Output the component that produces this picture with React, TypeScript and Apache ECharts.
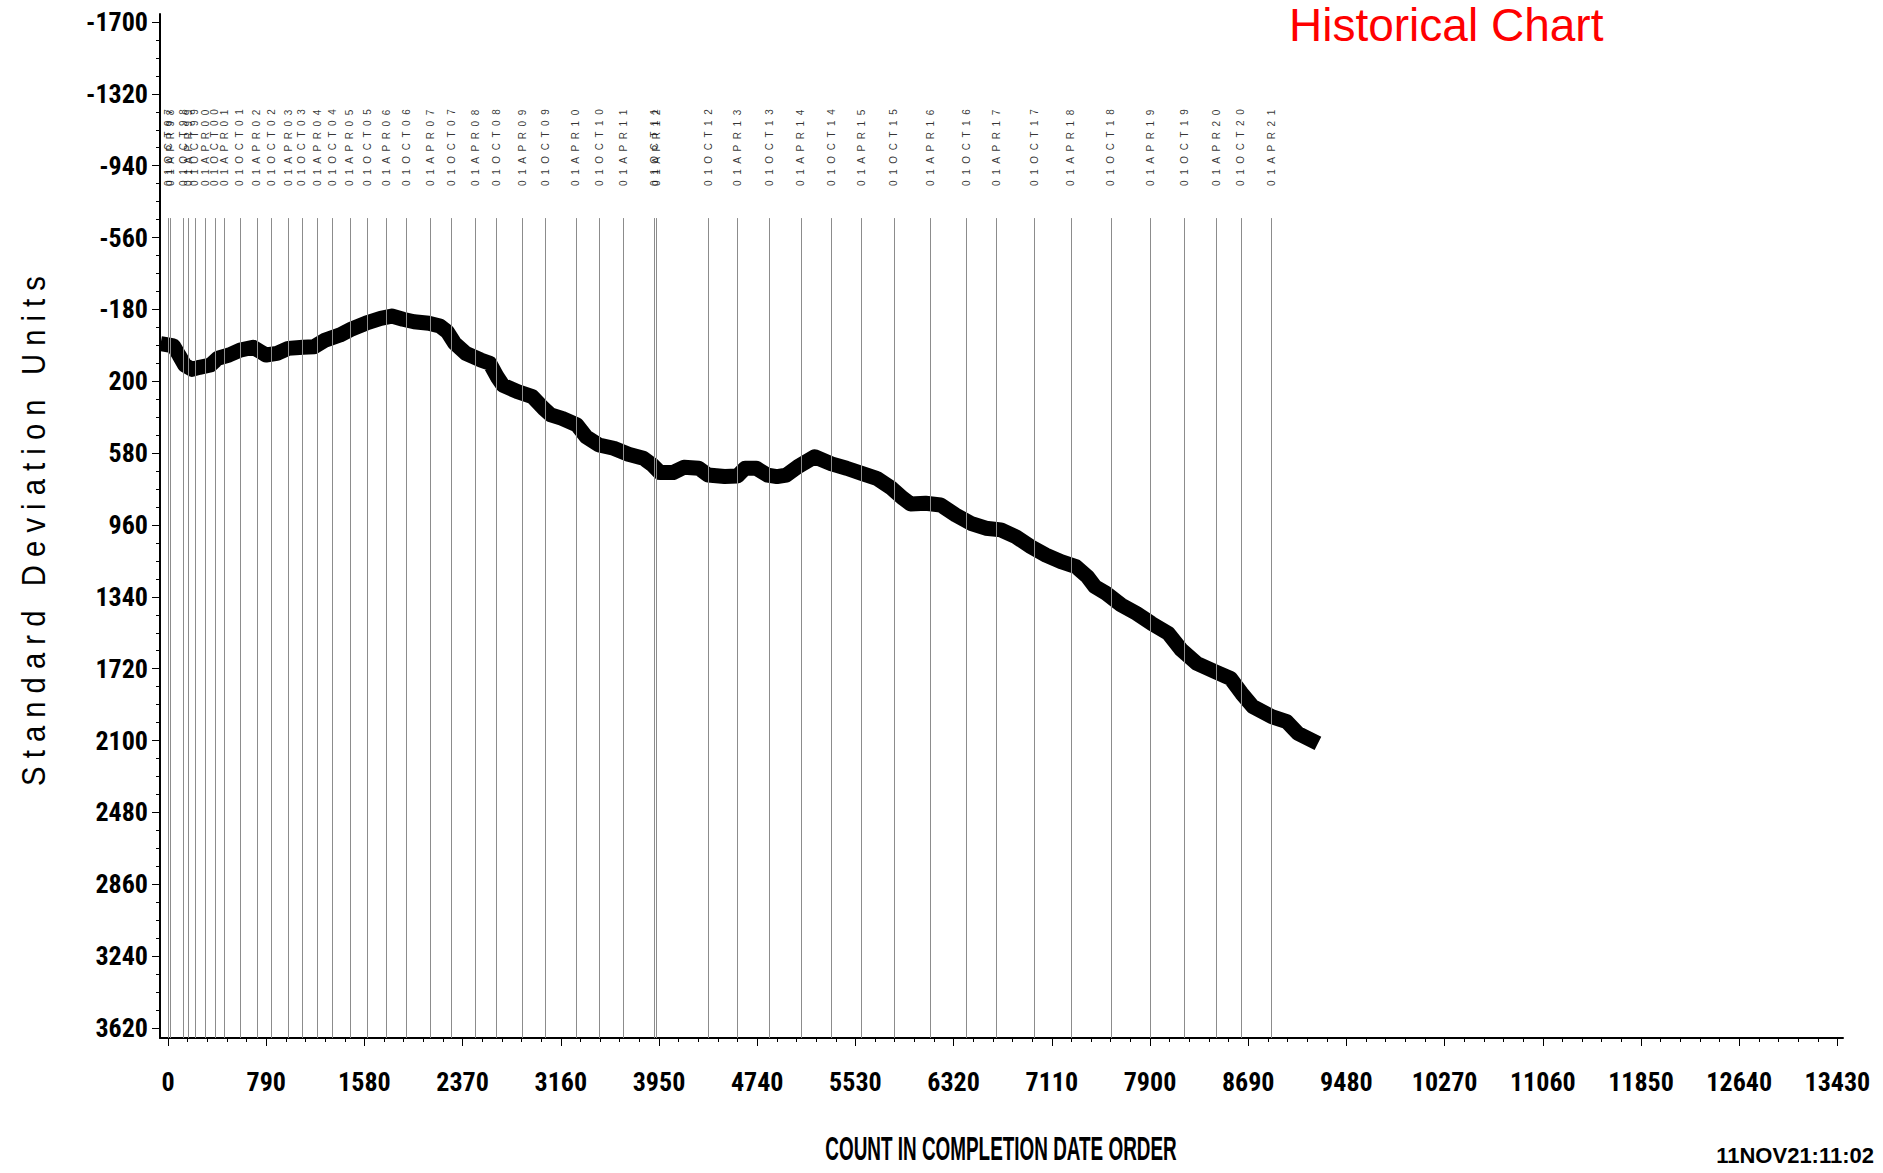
import React, { useEffect, useRef } from "react";
import * as echarts from "echarts";

// ---------- data ----------
const CURVE_COUNTS = [
  0, 44, 88, 134, 193, 253, 342, 401, 491, 580, 684, 743, 788, 877, 967, 1086,
  1175, 1265, 1384, 1473, 1592, 1711, 1800, 1890, 1979, 2098, 2187, 2247, 2306,
  2396, 2515, 2589, 2648, 2693, 2812, 2931, 3021, 3080, 3170, 3289, 3363, 3467,
  3585, 3704, 3824, 3898, 3958, 4062, 4151, 4270, 4344, 4478, 4581, 4642, 4733,
  4823, 4899, 4975, 5066, 5202, 5338, 5459, 5580, 5701, 5822, 5913, 5974, 6095,
  6216, 6337, 6458, 6579, 6700, 6821, 6942, 7063, 7184, 7304, 7396, 7457, 7547,
  7669, 7790, 7911, 8047, 8153, 8274, 8425, 8547, 8637, 8728, 8880, 9000, 9090,
  9197,
];
const CURVE_VALUES = [
  8, 13, 61, 114, 137, 126, 114, 78, 61, 35, 20, 43, 61, 52, 26, 20, 17, -18,
  -45, -75, -107, -133, -145, -128, -115, -107, -92, -62, -1, 52, 87, 105, 176,
  220, 255, 281, 343, 378, 396, 431, 493, 537, 554, 586, 607, 643, 683, 683, 655,
  660, 696, 704, 701, 660, 660, 696, 704, 696, 652, 599, 637, 660, 687, 713, 766,
  819, 849, 845, 854, 907, 951, 977, 986, 1022, 1075, 1119, 1154, 1180, 1233,
  1286, 1321, 1383, 1427, 1480, 1533, 1621, 1691, 1736, 1771, 1850, 1921, 1974,
  2000, 2062, 2097,
];

const DATE_LABELS = [
  "01OCT97", "01APR98", "01OCT98", "01APR99", "01OCT99", "01APR00", "01OCT00",
  "01APR01", "01OCT01", "01APR02", "01OCT02", "01APR03", "01OCT03", "01APR04",
  "01OCT04", "01APR05", "01OCT05", "01APR06", "01OCT06", "01APR07", "01OCT07",
  "01APR08", "01OCT08", "01APR09", "01OCT09", "01APR10", "01OCT10", "01APR11",
  "01OCT11", "01APR12", "01OCT12", "01APR13", "01OCT13", "01APR14", "01OCT14",
  "01APR15", "01OCT15", "01APR16", "01OCT16", "01APR17", "01OCT17", "01APR18",
  "01OCT18", "01APR19", "01OCT19", "01APR20", "01OCT20", "01APR21",
];
const DATE_COUNTS = [
  2, 22, 123, 163, 217, 298, 378, 451, 579, 714, 834, 968, 1076, 1201, 1325,
  1464, 1603, 1759, 1920, 2108, 2282, 2470, 2644, 2848, 3038, 3282, 3470, 3663,
  3910, 3930, 4347, 4583, 4837, 5092, 5334, 5581, 5840, 6135, 6420, 6666, 6969,
  7264, 7586, 7905, 8176, 8436, 8632, 8879,
];

const Y_TICKS = [-1700, -1320, -940, -560, -180, 200, 580, 960, 1340, 1720, 2100, 2480, 2860, 3240, 3620];
const X_TICKS = [0, 790, 1580, 2370, 3160, 3950, 4740, 5530, 6320, 7110, 7900, 8690, 9480, 10270, 11060, 11850, 12640, 13430];

const TITLE = "Historical Chart";
const X_TITLE = "COUNT IN COMPLETION DATE ORDER";
const Y_TITLE = "Standard Deviation Units";
const STAMP = "11NOV21:11:02";

// ---------- layout constants ----------
const X_MIN = -64.4;
const X_MAX = 13475;
const Y_MIN = -1742.3;
const Y_MAX = 3672.9;
const LINE_TOP = -663; // where the date reference lines begin
const LABEL_BASE = -833; // where the rotated date labels begin

const COND = "'Liberation Sans Narrow', 'Arial Narrow', 'Roboto Condensed', 'DejaVu Sans Condensed', sans-serif";
const SANS = "'Liberation Sans', Arial, sans-serif";

function minorTicks(ticks: number[], parts: number): number[] {
  const out: number[] = [];
  for (let i = 0; i < ticks.length - 1; i++) {
    const step = (ticks[i + 1] - ticks[i]) / parts;
    for (let k = 1; k < parts; k++) out.push(ticks[i] + step * k);
  }
  return out;
}

const NB = "\u00A0";
function spaced(s: string, gap: string): string {
  return s.split("").join(gap);
}

export default function App() {
  const ref = useRef<HTMLDivElement | null>(null);

  useEffect(() => {
    document.body.style.margin = "0";
    document.body.style.overflow = "hidden";
    if (!ref.current) return;
    const chart = echarts.init(ref.current, undefined, { renderer: "svg" });

    const yMinor = minorTicks(Y_TICKS, 4);
    const xMinor = minorTicks(X_TICKS, 5);
    const yTitleText = Y_TITLE.split(" ")
      .map((w) => spaced(w, NB))
      .join(NB + NB + NB);

    const axisFont = {
      color: "#000",
      fontFamily: COND,
      fontWeight: "bold" as const,
      fontSize: 26,
    };

    const option: any = {
      animation: false,
      backgroundColor: "#ffffff",
      grid: { left: 160, right: 40, top: 14, bottom: 135, containLabel: false },
      xAxis: [
        {
          type: "value",
          position: "bottom",
          min: X_MIN,
          max: X_MAX,
          axisLine: { show: true, onZero: false, lineStyle: { color: "#000", width: 2 } },
          axisTick: { show: true, customValues: X_TICKS, length: 8, lineStyle: { color: "#000", width: 1 } },
          axisLabel: {
            show: true,
            customValues: X_TICKS,
            formatter: (v: number) => String(v),
            margin: 31,
            ...axisFont,
          },
          splitLine: { show: false },
        },
        {
          type: "value",
          position: "bottom",
          min: X_MIN,
          max: X_MAX,
          axisLine: { show: false, onZero: false },
          axisTick: { show: true, customValues: xMinor, length: 4, lineStyle: { color: "#000", width: 1 } },
          axisLabel: { show: false },
          splitLine: { show: false },
        },
      ],
      yAxis: [
        {
          type: "value",
          position: "left",
          inverse: true,
          min: Y_MIN,
          max: Y_MAX,
          axisLine: { show: true, onZero: false, lineStyle: { color: "#000", width: 2 } },
          axisTick: { show: true, customValues: Y_TICKS, length: 8, lineStyle: { color: "#000", width: 1 } },
          axisLabel: {
            show: true,
            customValues: Y_TICKS,
            formatter: (v: number) => String(v),
            margin: 12,
            ...axisFont,
          },
          splitLine: { show: false },
        },
        {
          type: "value",
          position: "left",
          inverse: true,
          min: Y_MIN,
          max: Y_MAX,
          axisLine: { show: false, onZero: false },
          axisTick: { show: true, customValues: yMinor, length: 4, lineStyle: { color: "#000", width: 1 } },
          axisLabel: { show: false },
          splitLine: { show: false },
        },
      ],
      series: [
        {
          type: "scatter",
          name: "dates",
          xAxisIndex: 0,
          yAxisIndex: 0,
          silent: true,
          symbol: "circle",
          symbolSize: 1,
          itemStyle: { color: "rgba(0,0,0,0)" },
          data: DATE_COUNTS.map((c, i) => [c, LABEL_BASE, DATE_LABELS[i]]),
          label: {
            show: true,
            position: "inside",
            rotate: 90,
            align: "left",
            verticalAlign: "middle",
            color: "#000",
            fontFamily: SANS,
            fontSize: 10,
            formatter: (p: any) => spaced(p.data[2], NB + NB),
          },
          markLine: {
            silent: true,
            symbol: ["none", "none"],
            label: { show: false },
            emphasis: { disabled: true },
            lineStyle: { color: "#8c8c8c", width: 1, type: "solid" },
            data: DATE_COUNTS.map((c) => [{ coord: [c, LINE_TOP] }, { coord: [c, Y_MAX] }]),
          },
          z: 1,
        },
        {
          type: "line",
          name: "sd",
          xAxisIndex: 0,
          yAxisIndex: 0,
          silent: true,
          showSymbol: false,
          symbol: "none",
          data: CURVE_COUNTS.map((c, i) => [c, CURVE_VALUES[i]]),
          lineStyle: { color: "#000", width: 15, join: "round", cap: "square" },
          z: 3,
        },
      ],
      graphic: [
        {
          type: "text",
          x: 1289,
          y: 25,
          style: {
            text: TITLE,
            fill: "#ff0000",
            font: `46px ${SANS}`,
            textAlign: "left",
            textVerticalAlign: "middle",
          },
        },
        {
          type: "text",
          x: 33,
          y: 531,
          rotation: Math.PI / 2,
          scaleX: 0.86,
          style: {
            text: yTitleText,
            fill: "#000",
            font: `34px ${SANS}`,
            textAlign: "center",
            textVerticalAlign: "middle",
          },
        },
        {
          type: "text",
          x: 1001,
          y: 1148,
          scaleX: 0.556,
          style: {
            text: X_TITLE,
            fill: "#000",
            font: `bold 34px ${SANS}`,
            textAlign: "center",
            textVerticalAlign: "middle",
          },
        },
        {
          type: "text",
          x: 1874,
          y: 1155,
          style: {
            text: STAMP,
            fill: "#000",
            font: `bold 22px ${SANS}`,
            textAlign: "right",
            textVerticalAlign: "middle",
          },
        },
      ],
    };

    chart.setOption(option);
    return () => chart.dispose();
  }, []);

  return (
    <div
      ref={ref}
      style={{ position: "absolute", left: 0, top: 0, width: 1883, height: 1173, background: "#fff" }}
    />
  );
}
